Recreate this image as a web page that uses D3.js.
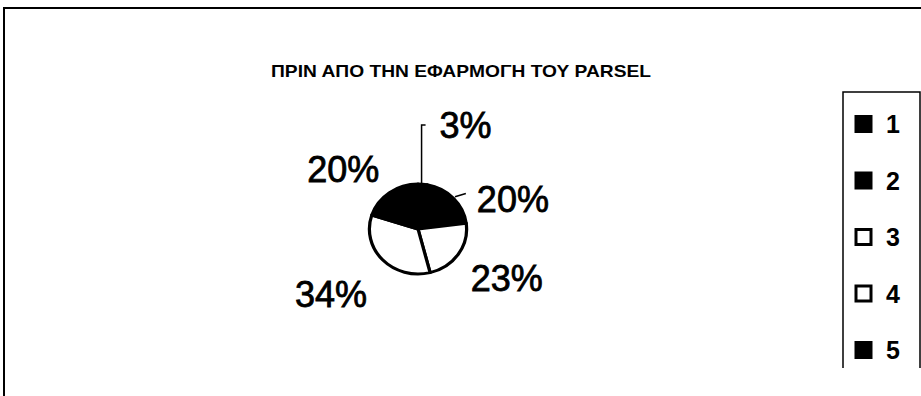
<!DOCTYPE html>
<html><head><meta charset="utf-8">
<script src="https://cdn.jsdelivr.net/npm/d3@7"></script>
<style>html,body{margin:0;padding:0;background:#fff;}svg{display:block;}</style>
</head><body>
<script>
const title = "ΠΡΙΝ ΑΠΟ ΤΗΝ ΕΦΑΡΜΟΓΗ ΤΟΥ PARSEL";
const categories = ["1", "2", "3", "4", "5"];
const values = [3, 20, 23, 34, 20];
const labels = ["3%", "20%", "23%", "34%", "20%"];
const fills = ["#000", "#000", "#fff", "#fff", "#000"];

const W = 921, H = 396;
const svg = d3.select("body").append("svg").attr("width", W).attr("height", H);

// frame
svg.append("path").attr("d", `M4,${H} L4,8 L${W},8`).attr("fill", "none").attr("stroke", "#000").attr("stroke-width", 2);

// title
svg.append("text").attr("x", 271).attr("y", 77)
  .attr("font-family", "Liberation Sans, Arial, sans-serif").attr("font-weight", "bold")
  .attr("font-size", 17).attr("textLength", 380).attr("lengthAdjust", "spacingAndGlyphs")
  .text(title);

// pie
const cx = 418, cy = 229, r = 45;
const pie = d3.pie().sort(null).value(d => d)(values);
const arc = d3.arc().innerRadius(0).outerRadius(r);
const g = svg.append("g").attr("transform", `translate(${cx},${cy}) scale(1.08,1)`);
g.selectAll("path.slice").data(pie).join("path").attr("class", "slice")
  .attr("d", arc).attr("fill", (d, i) => fills[i])
  .attr("stroke", "#000").attr("stroke-width", 3).attr("stroke-linejoin", "round");

// label placement (layout): radius and nudges per slice
const labelArc = d3.arc().innerRadius(100).outerRadius(100);
const nudges = [[38, -4], [22, 38], [6, -7], [-14, -3], [-16, 21]];
const lg = svg.append("g").attr("transform", `translate(${cx},${cy})`);
lg.selectAll("text").data(pie).join("text")
  .attr("x", (d, i) => labelArc.centroid(d)[0] + nudges[i][0])
  .attr("y", (d, i) => labelArc.centroid(d)[1] + nudges[i][1] + 13)
  .attr("text-anchor", "middle")
  .attr("font-family", "Liberation Sans, Arial, sans-serif").attr("font-size", 36)
  .attr("stroke", "#000").attr("stroke-width", 0.8)
  .text((d, i) => labels[i]);

// leader lines
const a1 = (pie[0].startAngle + pie[0].endAngle) / 2;
const p1 = d3.pointRadial(a1, r);
svg.append("path")
  .attr("d", `M${cx + p1[0] * 1.08 - 1},${cy + p1[1]} L${cx + p1[0] * 1.08 - 1},125 L${cx + p1[0] * 1.08 + 3},125`)
  .attr("fill", "none").attr("stroke", "#000").attr("stroke-width", 1.5);
const a2 = (pie[1].startAngle + pie[1].endAngle) / 2;
const q1 = d3.pointRadial(a2, r + 2), q2 = d3.pointRadial(a2 + 0.12, r + 10);
svg.append("line").attr("x1", cx + q1[0] * 1.08).attr("y1", cy + q1[1])
  .attr("x2", cx + q2[0] * 1.08).attr("y2", cy + q2[1] - 3)
  .attr("stroke", "#000").attr("stroke-width", 1.5);

// legend
const ly = d3.scalePoint().domain(categories).range([124, 350]);
svg.append("path").attr("d", "M843,368 L843,92 L920,92 L920,368").attr("fill", "none")
  .attr("stroke", "#000").attr("stroke-width", 1.5);
const li = svg.append("g").selectAll("g").data(categories).join("g")
  .attr("transform", d => `translate(0,${ly(d)})`);
li.append("rect").attr("x", 856).attr("y", -7.5).attr("width", 15).attr("height", 15)
  .attr("fill", (d, i) => fills[i]).attr("stroke", "#000").attr("stroke-width", 3);
li.append("text").attr("x", 886).attr("y", 9)
  .attr("font-family", "Liberation Sans, Arial, sans-serif").attr("font-size", 25)
  .attr("font-weight", "bold")
  .text(d => d);
</script>
</body></html>
